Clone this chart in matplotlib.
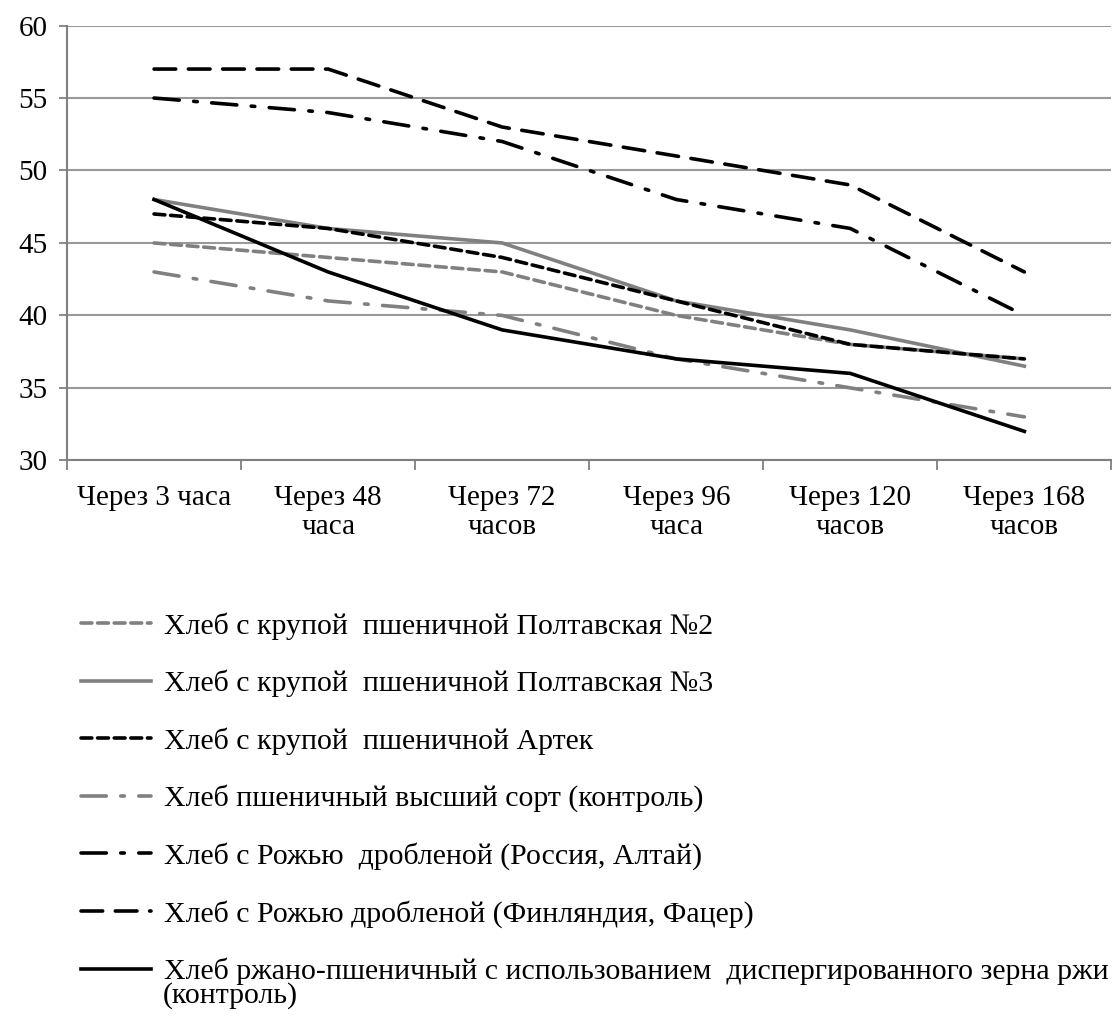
import numpy as np
import matplotlib.pyplot as plt
from matplotlib.ticker import FixedLocator

plt.rcParams['font.family'] = ['Liberation Serif', 'DejaVu Serif']

categories = ['Через 3 часа', 'Через 48\nчаса', 'Через 72\nчасов',
              'Через 96\nчаса', 'Через 120\nчасов', 'Через 168\nчасов']

poltava2 = [45, 44, 43, 40, 38, 37]
poltava3 = [48, 46, 45, 41, 39, 36.5]
artek = [47, 46, 44, 41, 38, 37]
control_wheat = [43, 41, 40, 37, 35, 33]
rye_russia = [55, 54, 52, 48, 46, 40]
rye_finland = [57, 57, 53, 51, 49, 43]
control_rye = [48, 43, 39, 37, 36, 32]

labels = ['Хлеб с крупой  пшеничной Полтавская №2',
          'Хлеб с крупой  пшеничной Полтавская №3',
          'Хлеб с крупой  пшеничной Артек',
          'Хлеб пшеничный высший сорт (контроль)',
          'Хлеб с Рожью  дробленой (Россия, Алтай)',
          'Хлеб с Рожью дробленой (Финляндия, Фацер)',
          'Хлеб ржано-пшеничный с использованием  диспергированного зерна ржи']
last_label_tail = '(контроль)'

grey = '#808080'
styles = [
    dict(color=grey, ls=(0, (3, 1.6))),
    dict(color=grey, ls='-'),
    dict(color='black', ls=(0, (3, 1.6))),
    dict(color=grey, ls=(0, (7, 4, 1, 4))),
    dict(color='black', ls=(0, (7, 4, 1, 4))),
    dict(color='black', ls=(0, (6, 3.5))),
    dict(color='black', ls='-'),
]
series = [poltava2, poltava3, artek, control_wheat, rye_russia, rye_finland, control_rye]

fs = 21
fs_leg = 21.5
fig = plt.figure(figsize=(11.17, 10.23), dpi=100)
ax = fig.add_axes([0.06, 0.55, 0.935, 0.425])

x = np.arange(len(categories))
for vals, st, lab in zip(series, styles, labels):
    ax.plot(x, vals, lw=2.6, label=lab, dash_capstyle='round', **st)

ax.set_xlim(-0.5, 5.5)
ax.set_ylim(30, 60)
ax.set_yticks(np.arange(30, 61, 5))
ax.set_xticks(x)
ax.set_xticklabels(categories, fontsize=fs, linespacing=1.15)
ax.xaxis.set_minor_locator(FixedLocator(np.arange(-0.5, 6, 1)))
ax.tick_params(axis='x', which='major', length=0, pad=18)
ax.tick_params(axis='x', which='minor', length=7, color=grey, width=1.3)
ax.tick_params(axis='y', labelsize=fs, length=6, color=grey, width=1.3, pad=8)
ax.grid(True, axis='y', color='#999999', lw=1.5)
ax.set_axisbelow(True)
for s in ['top', 'right']:
    ax.spines[s].set_visible(False)
for s in ['left', 'bottom']:
    ax.spines[s].set_color(grey)
    ax.spines[s].set_linewidth(1.5)

fig.legend(loc='upper left', bbox_to_anchor=(0.062, 0.413), frameon=False,
           fontsize=fs_leg, handlelength=2.35, handletextpad=0.42, labelspacing=1.0,
           borderaxespad=0)
fig.text(0.146, 1 - 996 / 1023, last_label_tail, fontsize=fs_leg, va='center', ha='left')

fig.savefig('out.png', dpi=100)
